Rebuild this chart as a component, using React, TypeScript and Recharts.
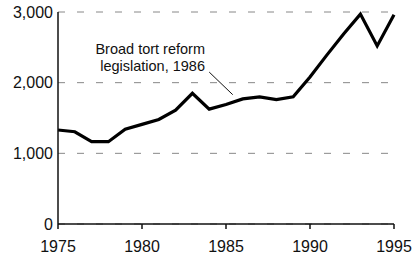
import { LineChart, Line, XAxis, YAxis, CartesianGrid, ReferenceLine, ReferenceDot } from "recharts"

const years = [1975, 1976, 1977, 1978, 1979, 1980, 1981, 1982, 1983, 1984, 1985, 1986, 1987, 1988, 1989, 1990, 1991, 1992, 1993, 1994, 1995]
const values = [1330, 1305, 1165, 1165, 1340, 1410, 1480, 1610, 1850, 1625, 1690, 1770, 1800, 1760, 1800, 2080, 2390, 2690, 2970, 2520, 2960]
const xTicks = [1975, 1980, 1985, 1990, 1995]
const yTicks = [0, 1000, 2000, 3000]
const noteLines = ["Broad tort reform", "legislation, 1986"]

const data = years.map((year, i) => ({ year, value: values[i] }))

const font = "'Liberation Sans', Arial, Helvetica, sans-serif"

function Note(props: any) {
  const { cx, cy } = props
  return (
    <text x={cx} y={cy} textAnchor="end" fontSize={14.5} fontFamily={font} fill="#111">
      {noteLines.map((t, i) => (
        <tspan key={t} x={cx} dy={i === 0 ? 0 : 17}>
          {t}
        </tspan>
      ))}
    </text>
  )
}

export default function App() {
  return (
    <div style={{ position: "absolute", left: 0, top: 0, background: "#fff" }}>
      <LineChart width={413} height={260} data={data} margin={{ top: 12, right: 19, left: 0, bottom: 0 }}>
        <CartesianGrid vertical={false} stroke="#888" strokeDasharray="7 12" strokeWidth={1} />
        <XAxis
          dataKey="year"
          type="number"
          domain={[1975, 1995]}
          ticks={xTicks}
          height={36}
          tickSize={5}
          tickMargin={12}
          stroke="#111"
          strokeWidth={1.5}
          tick={{ fill: "#111", fontSize: 16, fontFamily: font }}
        />
        <YAxis
          domain={[0, 3000]}
          ticks={yTicks}
          width={58}
          tickLine={false}
          tickSize={5}
          tickMargin={0}
          stroke="#111"
          strokeWidth={1.5}
          tickFormatter={(v: number) => v.toLocaleString("en-US")}
          tick={{ fill: "#111", fontSize: 16, fontFamily: font }}
        />
        <ReferenceLine
          segment={[{ x: 1984, y: 2150 }, { x: 1985.4, y: 1830 }]}
          stroke="#111"
          strokeWidth={1}
          ifOverflow="visible"
        />
        <ReferenceDot x={1983.75} y={2400} r={0} ifOverflow="visible" shape={Note} />
        <Line
          type="linear"
          dataKey="value"
          stroke="#000"
          strokeWidth={3.2}
          dot={false}
          isAnimationActive={false}
        />
      </LineChart>
    </div>
  )
}
